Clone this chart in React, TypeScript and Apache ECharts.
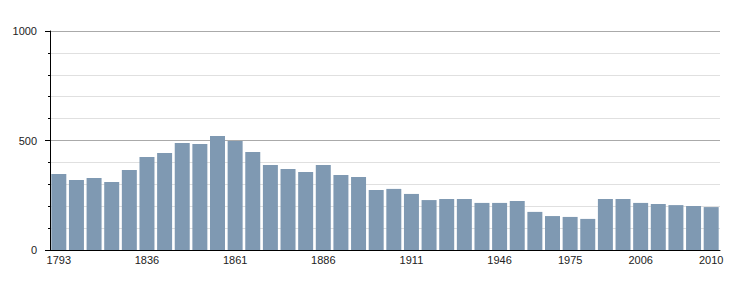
import React, { useEffect, useRef } from "react";
import * as echarts from "echarts";

const years = [
  "1793", "1800", "1806", "1821", "1831", "1836", "1841", "1846", "1851", "1856",
  "1861", "1866", "1872", "1876", "1881", "1886", "1891", "1896", "1901", "1906",
  "1911", "1921", "1926", "1931", "1936", "1946", "1954", "1962", "1968", "1975",
  "1982", "1990", "1999", "2006", "2007", "2008", "2009", "2010",
];

const population = [
  347, 320, 329, 310, 365, 425, 443, 489, 484, 521,
  498, 447, 388, 370, 356, 388, 342, 333, 274, 279,
  256, 228, 233, 233, 215, 215, 224, 174, 155, 151,
  142, 233, 233, 215, 210, 205, 201, 196,
];

const shownLabels = ["1793", "1836", "1861", "1886", "1911", "1946", "1975", "2006", "2010"];

const yTickLabels = [0, 500, 1000];

export default function App() {
  const ref = useRef<HTMLDivElement>(null);

  useEffect(() => {
    if (!ref.current) return;
    const chart = echarts.init(ref.current, undefined, { renderer: "svg" });
    chart.setOption({
      animation: false,
      backgroundColor: "#ffffff",
      grid: { left: 50, right: 30, top: 31, bottom: 50, containLabel: false },
      xAxis: {
        type: "category",
        data: years,
        axisLine: { show: true, lineStyle: { color: "#000", width: 1 } },
        axisTick: { show: false },
        axisLabel: {
          interval: (idx: number, val: string) => shownLabels.includes(val) && (val !== "2006" || idx === 33),
          color: "#222",
          fontFamily: "Liberation Sans, Arial, sans-serif",
          fontSize: 11,
          margin: 4,
        },
      },
      yAxis: {
        type: "value",
        min: 0,
        max: 1000,
        interval: 500,
        axisLine: { show: true, lineStyle: { color: "#000", width: 1 } },
        axisTick: { show: true, length: 5, lineStyle: { color: "#000" } },
        minorTick: { show: true, splitNumber: 5, length: 2, lineStyle: { color: "#000" } },
        splitLine: { show: true, lineStyle: { color: "#aaaaaa", width: 1 } },
        minorSplitLine: { show: true, lineStyle: { color: "#e0e0e0", width: 1 } },
        axisLabel: {
          color: "#222",
          fontFamily: "Liberation Sans, Arial, sans-serif",
          fontSize: 11,
          margin: 13,
          formatter: (v: number) => (yTickLabels.includes(v) ? String(v) : ""),
        },
      },
      series: [
        {
          type: "bar",
          data: population,
          barCategoryGap: "15%",
          itemStyle: { color: "#7f99b2" },
          z: 3,
        },
      ],
    });
    return () => chart.dispose();
  }, []);

  return <div ref={ref} style={{ width: 750, height: 300, position: "absolute", left: 0, top: 0 }} />;
}
